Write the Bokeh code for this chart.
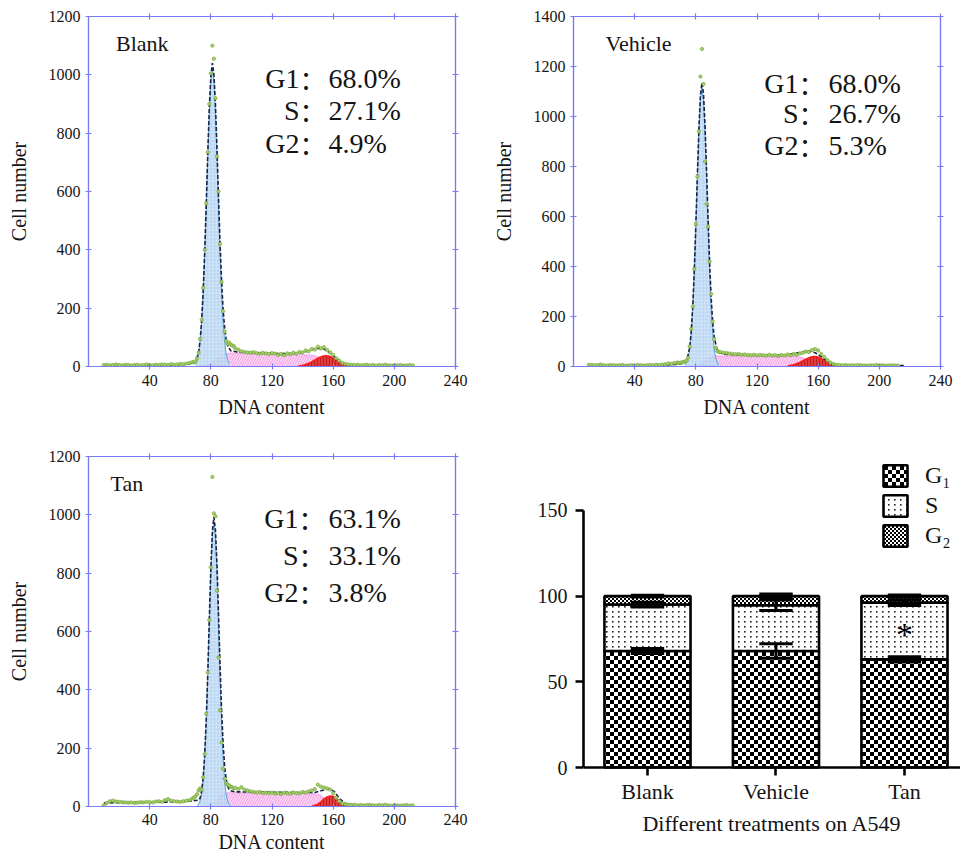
import math
import base64
from bokeh.plotting import figure
from bokeh.models import (Range1d, FixedTicker, LinearAxis, Label, Legend,
                          LegendItem, ImageURLTexture)
from bokeh.layouts import row, column
from bokeh.core.properties import value
from bokeh.embed import file_html
from bokeh.resources import INLINE

# ---------------------------------------------------------------- data
CATS = ["Blank", "Vehicle", "Tan"]
PHASES = ["G1", "S", "G2"]
LEGEND_LABELS = ["G\u2081", "S", "G\u2082"]
PHASE_G1 = [68.0, 68.0, 63.1]
PHASE_S = [27.1, 26.7, 33.1]
PHASE_G2 = [4.9, 5.3, 3.8]
ERR_G1 = [1.5, 4.2, 1.5]
ERR_S = [1.4, 3.1, 1.6]
ERR_G2 = [0.5, 1.2, 0.6]
BAR_YTICKS = [0, 50, 100, 150]

HIST_XTICKS = [40, 80, 120, 160, 200, 240]
BLANK_YTICKS = [0, 200, 400, 600, 800, 1000, 1200]
VEH_YTICKS = [0, 200, 400, 600, 800, 1000, 1200, 1400]
TAN_YTICKS = [0, 200, 400, 600, 800, 1000, 1200]

# histogram channels (DNA content)
CH_LEFT = list(range(10, 70, 2))
CH_PEAK = list(range(69, 96))
CH_RIGHT = list(range(96, 214, 2))

# raw counts (green dots)
BLANK_LEFT = [5, 6, 4, 5, 7, 5, 4, 6, 5, 3, 5, 6, 4, 5, 7, 5, 4, 6, 5, 7,
              6, 5, 8, 6, 7, 9, 8, 10, 12, 15]
BLANK_PEAK = [14, 18, 28, 48, 95, 160, 270, 400, 560, 735, 900, 1005, 1100, 1055,
              920, 720, 600, 420, 290, 190, 120, 88, 78, 82, 75, 72, 70]
BLANK_RIGHT = [62, 58, 52, 50, 48, 47, 49, 46, 44, 47, 45, 43, 46, 44, 40, 43, 38, 45,
               42, 47, 44, 50, 48, 55, 52, 60, 58, 68, 62, 66, 57, 48, 40, 28, 20, 12,
               9, 7, 6, 5, 6, 4, 5, 6, 4, 5, 3, 5, 4, 6, 4, 3, 5, 4, 5, 3, 4, 5, 4]

VEH_LEFT = [6, 7, 5, 6, 8, 5, 4, 6, 5, 4, 5, 6, 3, 4, 5, 4, 6, 5, 4, 5,
            6, 5, 7, 6, 8, 9, 12, 11, 14, 16]
VEH_PEAK = [14, 15, 16, 18, 20, 24, 35, 80, 150, 240, 390, 570, 760, 940, 1160,
            1270, 1130, 820, 650, 560, 420, 290, 180, 110, 75, 62, 58]
VEH_RIGHT = [58, 55, 54, 52, 50, 49, 50, 47, 48, 46, 45, 47, 44, 46, 45, 43, 47, 44,
             45, 42, 46, 44, 48, 45,
             50, 47, 52, 55, 60, 58, 66, 70, 64, 50, 38, 26, 16, 10, 7, 6,
             5, 6, 4, 5, 4, 6, 5, 4, 3, 5, 4, 6, 4, 5, 3, 4, 5, 4, 4]

TAN_LEFT = [4, 12, 18, 20, 17, 16, 15, 14, 13, 14, 12, 13, 15, 14, 16, 15, 14, 17, 18,
            16, 22, 25, 20, 18, 17, 16, 18, 20, 22, 28]
TAN_PEAK = [30, 35, 42, 55, 62, 58, 100, 180, 318, 460, 640, 820, 1130, 1005, 995,
            740, 511, 330, 220, 130, 95, 80, 75, 72, 68, 66, 62]
TAN_RIGHT = [64, 60, 66, 58, 55, 52, 50, 48, 50, 46, 47, 45, 48, 44, 46, 43, 47, 45,
             44, 48, 46, 45, 50, 48,
             52, 55, 60, 75, 68, 65, 62, 58, 46, 30, 18, 10, 8, 6, 5, 6,
             4, 5, 4, 5, 6, 4, 3, 5, 4, 6, 4, 3, 5, 4, 3, 4, 5, 3, 4]

# fitted G1 component
BLANK_G1_X = list(range(70, 93))
BLANK_G1_Y = [10, 22, 45, 86, 153, 254, 388, 549, 720, 874, 981, 1020, 981, 874, 720,
              549, 388, 254, 153, 86, 45, 22, 10]
VEH_G1_X = list(range(73, 96))
VEH_G1_Y = [6, 15, 34, 70, 134, 235, 378, 558, 756, 938, 1068, 1115, 1068, 938, 756,
            558, 378, 235, 134, 70, 34, 15, 6]
TAN_G1_X = list(range(71, 94))
TAN_G1_Y = [3, 7, 19, 43, 89, 168, 288, 447, 628, 802, 928, 975, 928, 802, 628, 447,
            288, 168, 89, 43, 19, 7, 3]

# fitted S component
BLANK_S_X = [76, 80, 84, 88, 90, 94, 100, 110, 120, 130, 140, 146, 150, 154, 158, 162]
BLANK_S_Y = [0, 10, 26, 40, 45, 46, 45, 43, 41, 40, 40, 39, 33, 22, 10, 0]
VEH_S_X = [80, 84, 88, 92, 100, 110, 120, 130, 140, 146, 150, 154, 158, 162]
VEH_S_Y = [0, 14, 30, 42, 42, 41, 40, 39, 40, 40, 35, 24, 11, 0]
TAN_S_X = [78, 82, 86, 88, 92, 100, 110, 120, 130, 140, 148, 152, 156, 160]
TAN_S_Y = [0, 10, 36, 46, 47, 46, 45, 45, 44, 44, 44, 38, 20, 0]

# fitted G2 component
BLANK_G2_X = [137, 141, 145, 149, 151, 153, 155, 157, 159, 163, 167, 170]
BLANK_G2_Y = [1, 5, 13, 25, 31, 35, 37, 36, 32, 19, 7, 2]
VEH_G2_X = [140, 144, 148, 152, 154, 156, 158, 160, 164, 168, 172]
VEH_G2_Y = [2, 7, 16, 29, 35, 39, 40, 38, 25, 11, 3]
TAN_G2_X = [146, 150, 152, 154, 156, 158, 160, 162, 164, 166, 169]
TAN_G2_Y = [1, 8, 16, 26, 33, 36, 35, 28, 18, 9, 1]

# total fit (dashed)
BLANK_FIT_X = [10, 30, 50, 60, 66, 70, 72, 73, 74, 75, 76, 77, 78, 79, 80, 81, 82, 83,
               84, 85, 86, 87, 88, 89, 90, 91, 93, 97, 100, 110, 120, 130, 138, 142,
               146, 150, 154, 158, 162, 166, 170, 180, 212]
BLANK_FIT_Y = [4, 4, 5, 6, 9, 14, 49, 90, 157, 258, 392, 556, 730, 886, 995, 1040, 1003,
               900, 750, 583, 426, 296, 197, 133, 94, 72, 54, 50, 49, 47, 45, 44, 46,
               51, 58, 63, 60, 46, 28, 12, 5, 4, 4]
VEH_FIT_X = [10, 30, 50, 64, 70, 74, 76, 77, 78, 79, 80, 81, 82, 83, 84, 85, 86, 87, 88,
             89, 90, 91, 92, 94, 96, 100, 110, 120, 130, 140, 146, 150, 154, 158, 162,
             166, 170, 176, 190, 216]
VEH_FIT_Y = [5, 5, 5, 7, 10, 21, 76, 140, 241, 384, 564, 764, 950, 1084, 1135, 1092, 966,
             788, 594, 417, 277, 179, 118, 63, 54, 48, 47, 46, 45, 48, 54, 58, 62, 55,
             40, 20, 8, 5, 4, 4]
TAN_FIT_X = [10, 30, 50, 66, 72, 73, 74, 75, 76, 77, 78, 79, 80, 81, 82, 83, 84, 85, 86,
             87, 88, 89, 90, 91, 92, 93, 96, 100, 120, 140, 148, 152, 155, 158, 161, 164,
             168, 175, 212]
TAN_FIT_Y = [12, 14, 15, 18, 22, 29, 53, 99, 178, 298, 457, 640, 816, 943, 992, 950, 832,
             664, 487, 334, 218, 139, 94, 70, 58, 54, 50, 50, 49, 48, 48, 54, 58, 60, 50,
             28, 10, 4, 3]

# ---------------------------------------------------------------- style
SERIF = "Liberation Serif"
BLUE = "#7a7af4"
TXT = "#141414"


def pct_strings(i):
    return [f"{PHASE_G1[i]:.1f}%", f"{PHASE_S[i]:.1f}%", f"{PHASE_G2[i]:.1f}%"]


def hist_panel(idx, ymax, yticks, width, height, borders, counts, g1, s, g2, fit,
               name_xy, lab_x, val_x, row_y, xlab_standoff, tick_standoff):
    bl, br, bt, bb = borders
    p = figure(width=width, height=height, x_range=Range1d(0, 240),
               y_range=Range1d(0, ymax), min_border_left=bl, min_border_right=br,
               min_border_top=bt, min_border_bottom=bb, output_backend="svg",
               toolbar_location=None, background_fill_color="white",
               border_fill_color="white")
    p.grid.visible = False
    p.outline_line_color = BLUE
    p.outline_line_width = 1.2
    top_ax = LinearAxis()
    right_ax = LinearAxis()
    p.add_layout(top_ax, "above")
    p.add_layout(right_ax, "right")
    p.below[0].ticker = FixedTicker(ticks=HIST_XTICKS, minor_ticks=[])
    p.left[0].ticker = FixedTicker(ticks=yticks, minor_ticks=[])
    # frame ticks without labels (drawn as minor ticks)
    top_ax.ticker = FixedTicker(ticks=[], minor_ticks=HIST_XTICKS)
    right_ax.ticker = FixedTicker(ticks=[], minor_ticks=yticks)
    for ax in [p.below[0], p.left[0], top_ax, right_ax]:
        ax.axis_line_color = BLUE
        ax.axis_line_width = 1.2
        ax.major_tick_line_color = BLUE
        ax.major_tick_line_width = 1.2
        ax.major_tick_in = 3
        ax.major_tick_out = 3
        ax.minor_tick_line_color = None
        ax.major_label_text_font = SERIF
        ax.major_label_text_font_size = "16px"
        ax.major_label_text_color = TXT
        ax.axis_label_text_font = SERIF
        ax.axis_label_text_font_style = "normal"
        ax.axis_label_text_font_size = "20px"
        ax.axis_label_text_color = TXT
    for ax in [top_ax, right_ax]:
        ax.major_tick_line_color = None
        ax.minor_tick_line_color = BLUE
        ax.minor_tick_line_width = 1.2
        ax.minor_tick_in = 3
        ax.minor_tick_out = 3
        ax.major_label_standoff = 0
    xa = p.below[0]
    xa.axis_label = "DNA content"
    xa.major_label_standoff = tick_standoff
    xa.axis_label_standoff = xlab_standoff
    ya = p.left[0]
    ya.axis_label = "Cell number"
    ya.axis_label_standoff = 16

    (g1x, g1y), (sx, sy), (g2x, g2y), (fx, fy) = g1, s, g2, fit
    p.varea(x=sx, y1=0, y2=sy, fill_color="#fcd6f4", fill_alpha=0.95,
            hatch_pattern="/", hatch_color="#f08fdf", hatch_scale=5, hatch_weight=0.8)
    p.line(sx, sy, line_color="#f2a4e6", line_width=1)
    p.varea(x=g1x, y1=0, y2=g1y, fill_color="#a9cdef", fill_alpha=0.82,
            hatch_pattern="+", hatch_color="white", hatch_scale=3.5,
            hatch_weight=0.6, hatch_alpha=0.55)
    p.line(g1x, g1y, line_color="#5aa4e0", line_width=1)
    p.varea(x=g2x, y1=0, y2=g2y, fill_color="#e33a3c", hatch_pattern="|",
            hatch_color="#a3141a", hatch_scale=3, hatch_weight=0.7)
    p.line(g2x, g2y, line_color="#ff1a1a", line_width=1.5)
    p.line(fx, fy, line_color="#1c2442", line_width=1.6, line_dash="4 2")
    chans = CH_LEFT + CH_PEAK + CH_RIGHT
    n = min(len(chans), len(counts))
    p.scatter(chans[:n], counts[:n], size=3.4, fill_color="#a5d063",
              line_color="#6e9e3c", line_width=0.6)

    p.text(x=[name_xy[0]], y=[name_xy[1]], text=[CATS[idx]], text_font=value(SERIF),
           text_font_size="22px", text_baseline="middle", text_align="left",
           text_color=TXT)
    p.text(x=[lab_x] * 3, y=row_y, text=PHASES, text_font=value(SERIF),
           text_font_size="28px", text_baseline="middle", text_align="right",
           text_color=TXT)
    p.text(x=[lab_x] * 3, y=row_y, text=["\uff1a"] * 3,
           text_font=value("Noto Sans CJK SC"), text_font_size="26px",
           text_baseline="middle", text_align="left", text_color=TXT)
    p.text(x=[val_x] * 3, y=row_y, text=pct_strings(idx), text_font=value(SERIF),
           text_font_size="28px", text_baseline="middle", text_align="left",
           text_color=TXT)
    return p


# top row: 424 px tall; bottom row: 434 px tall (frames aligned within each row)
p1 = hist_panel(0, 1200, BLANK_YTICKS, 478, 424, (88, 23, 16, 58),
                BLANK_LEFT + BLANK_PEAK + BLANK_RIGHT,
                (BLANK_G1_X, BLANK_G1_Y), (BLANK_S_X, BLANK_S_Y),
                (BLANK_G2_X, BLANK_G2_Y), (BLANK_FIT_X, BLANK_FIT_Y),
                (18, 1106), 138.0, 157.0, [987, 878, 765], 7, 5)
p2 = hist_panel(1, 1400, VEH_YTICKS, 482, 424, (95, 20, 16, 58),
                VEH_LEFT + VEH_PEAK + VEH_RIGHT,
                (VEH_G1_X, VEH_G1_Y), (VEH_S_X, VEH_S_Y),
                (VEH_G2_X, VEH_G2_Y), (VEH_FIT_X, VEH_FIT_Y),
                (21, 1291), 147.2, 166.8, [1131, 1012, 885], 7, 5)
p3 = hist_panel(2, 1200, TAN_YTICKS, 478, 434, (88, 23, 32, 52),
                TAN_LEFT + TAN_PEAK + TAN_RIGHT,
                (TAN_G1_X, TAN_G1_Y), (TAN_S_X, TAN_S_Y),
                (TAN_G2_X, TAN_G2_Y), (TAN_FIT_X, TAN_FIT_Y),
                (14.4, 1106), 137.3, 157.0, [986, 860, 735], 3, 4)

# ---------------------------------------------------------------- stacked bars
# frame shares top/bottom with the Tan panel (456..806); x axis sits at y = 0
p4 = figure(width=482, height=434, x_range=Range1d(-0.498, 2.436),
            y_range=Range1d(-22.76, 181.5), min_border_left=105, min_border_right=0,
            min_border_top=32, min_border_bottom=52, output_backend="svg",
            toolbar_location=None, background_fill_color="white",
            border_fill_color="white")
p4.grid.visible = False
p4.outline_line_color = None

xs = list(range(len(CATS)))
top_g1 = list(PHASE_G1)
top_s = [a + b for a, b in zip(PHASE_G1, PHASE_S)]
top_g2 = [a + b + c for a, b, c in zip(PHASE_G1, PHASE_S, PHASE_G2)]


def svg_tile(svg):
    return "data:image/svg+xml;base64," + base64.b64encode(svg.encode()).decode()


tex_checker = ImageURLTexture(url=svg_tile(
    "<svg xmlns='http://www.w3.org/2000/svg' width='8' height='8'>"
    "<rect width='8' height='8' fill='#fff'/>"
    "<rect width='4' height='4' fill='#000'/>"
    "<rect x='4' y='4' width='4' height='4' fill='#000'/></svg>"))
tex_dots = ImageURLTexture(url=svg_tile(
    "<svg xmlns='http://www.w3.org/2000/svg' width='6' height='5'>"
    "<rect width='6' height='5' fill='#fff'/>"
    "<rect x='2' y='2' width='1.6' height='1.6' fill='#222'/></svg>"))
tex_fine = ImageURLTexture(url=svg_tile(
    "<svg xmlns='http://www.w3.org/2000/svg' width='4' height='4'>"
    "<rect width='4' height='4' fill='#fff'/>"
    "<rect width='2' height='2' fill='#000'/>"
    "<rect x='2' y='2' width='2' height='2' fill='#000'/></svg>"))

bar_kw = dict(width=0.67, fill_color="white", line_color="black", line_width=2.6,
              hatch_color="black", hatch_alpha=1.0)
r_g1 = p4.vbar(x=xs, bottom=0, top=top_g1, hatch_pattern=value("chk"),
               hatch_extra={"chk": tex_checker}, **bar_kw)
r_s = p4.vbar(x=xs, bottom=top_g1, top=top_s, hatch_pattern=value("dts"),
              hatch_extra={"dts": tex_dots}, **bar_kw)
r_g2 = p4.vbar(x=xs, bottom=top_s, top=top_g2, hatch_pattern=value("fin"),
               hatch_extra={"fin": tex_fine}, **bar_kw)

# error bars
cap = 0.13
sx0, sy0, sx1, sy1 = [], [], [], []
for centers, errs in [(top_g1, ERR_G1), (top_s, ERR_S), (top_g2, ERR_G2)]:
    for i, (c, e) in enumerate(zip(centers, errs)):
        sx0 += [i, i - cap, i - cap]
        sx1 += [i, i + cap, i + cap]
        sy0 += [c - e, c - e, c + e]
        sy1 += [c + e, c - e, c + e]
p4.segment(x0=sx0, y0=sy0, x1=sx1, y1=sy1, line_color="black", line_width=3)

tan_i = CATS.index("Tan")
p4.text(x=[tan_i], y=[PHASE_G1[tan_i] + PHASE_S[tan_i] / 2 - 2], text=["*"],
        text_font=value(SERIF), text_font_size="34px", text_align="center",
        text_baseline="middle", text_color="black")

xa4 = p4.xaxis[0]
xa4.fixed_location = 0
xa4.ticker = FixedTicker(ticks=xs, minor_ticks=[])
xa4.major_label_overrides = {i: c for i, c in enumerate(CATS)}
ya4 = p4.yaxis[0]
ya4.ticker = FixedTicker(ticks=BAR_YTICKS, minor_ticks=[])
ya4.bounds = (BAR_YTICKS[0], BAR_YTICKS[-1])
for ax in [xa4, ya4]:
    ax.axis_line_color = "black"
    ax.axis_line_width = 2.6
    ax.major_tick_line_color = "black"
    ax.major_tick_line_width = 2.6
    ax.major_tick_in = 0
    ax.major_tick_out = 8
    ax.minor_tick_line_color = None
    ax.major_label_text_font = SERIF
    ax.major_label_text_color = TXT
xa4.major_label_text_font_size = "22px"
xa4.major_label_standoff = 3
ya4.major_label_text_font_size = "20px"
ya4.major_label_standoff = 8

# title-only axis below the frame for the x axis title
title_ax = LinearAxis(ticker=FixedTicker(ticks=[], minor_ticks=[]),
                      axis_label="Different treatments on A549",
                      axis_line_color=None, major_tick_line_color=None,
                      minor_tick_line_color=None, major_label_standoff=0,
                      axis_label_standoff=4, axis_label_text_font=SERIF,
                      axis_label_text_font_style="normal",
                      axis_label_text_font_size="22px", axis_label_text_color=TXT)
p4.add_layout(title_ax, "below")

p4.add_layout(Label(x=-70, y=170, x_units="screen", y_units="screen",
                    text="Proportion %", angle=math.pi / 2, text_align="center",
                    text_baseline="middle", text_font=SERIF, text_font_size="20px",
                    text_color=TXT))

legend = Legend(items=[LegendItem(label=LEGEND_LABELS[0], renderers=[r_g1]),
                       LegendItem(label=LEGEND_LABELS[1], renderers=[r_s]),
                       LegendItem(label=LEGEND_LABELS[2], renderers=[r_g2])],
                location=(297, 257), orientation="vertical", glyph_width=30,
                glyph_height=27, label_height=27, spacing=3, padding=0, margin=0,
                border_line_color=None, background_fill_alpha=0,
                label_text_font=SERIF, label_text_font_size="24px",
                label_text_color=TXT, label_standoff=15)
p4.add_layout(legend)

layout = column(row(p1, p2), row(p3, p4))
open("out.html", "w").write(file_html(layout, INLINE))
